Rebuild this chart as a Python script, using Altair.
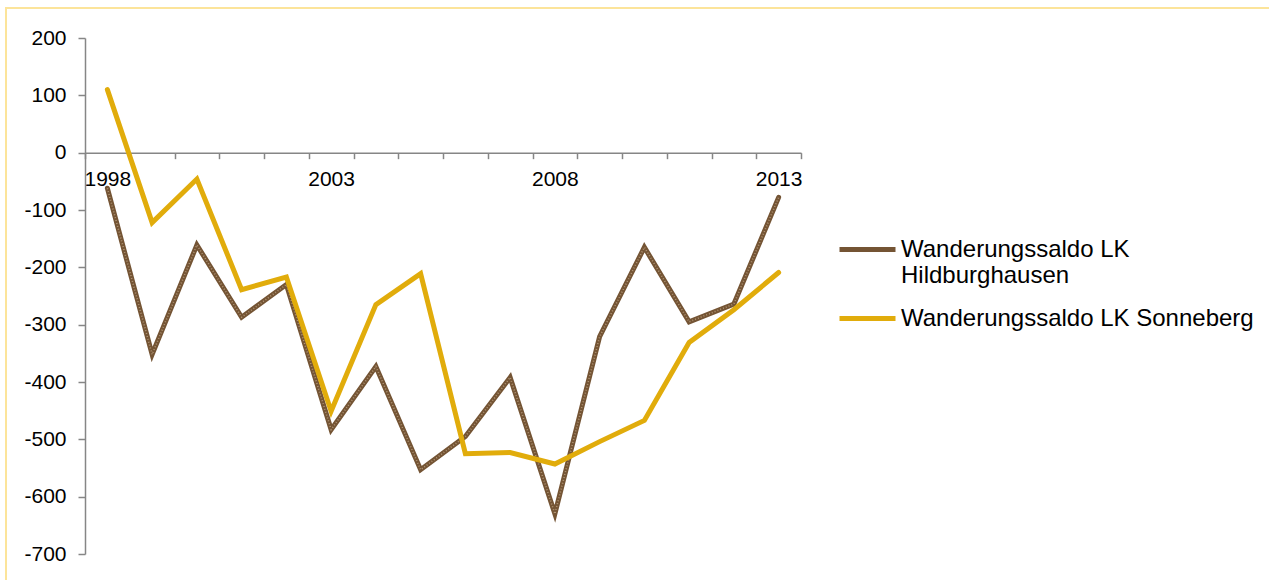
import altair as alt
import pandas as pd

# ---- data ----
years = list(range(1998, 2014))
hildburghausen = [-62, -352, -161, -287, -230, -483, -373, -553, -495, -392, -630, -321, -165, -295, -264, -78]
sonneberg = [110, -122, -46, -239, -217, -451, -265, -211, -525, -523, -543, -504, -467, -331, -274, -209]
label_years = [1998, 2003, 2008, 2013]
y_ticks = list(range(-700, 201, 100))
series_names = ["Wanderungssaldo LK Hildburghausen", "Wanderungssaldo LK Sonneberg"]
series_colors = ["#745434", "#E1AC0B"]

df = pd.DataFrame({
    "Jahr": years * 2,
    "Wert": hildburghausen + sonneberg,
    "Serie": [series_names[0]] * len(years) + [series_names[1]] * len(years),
})

FONT = "Liberation Sans"
W, H = 716, 516
y_min, y_max = y_ticks[0], y_ticks[-1]
zero_offset = -(H - H * (y_max - 0) / (y_max - y_min))

x_bounds = [y - 0.5 for y in years] + [years[-1] + 0.5]
x_values = sorted(x_bounds + label_years)

x_enc = alt.X(
    "Jahr:Q",
    scale=alt.Scale(domain=[years[0] - 0.5, years[-1] + 0.5], nice=False, zero=False),
    axis=alt.Axis(
        values=x_values, title=None, orient="bottom", offset=zero_offset, grid=False,
        labelExpr="datum.value % 1 == 0 ? '' + datum.value : ''",
        tickOpacity={"condition": {"test": "datum.value % 1 != 0", "value": 1}, "value": 0},
        tickSize=6, labelPadding=10, labelFontSize=21, labelFont=FONT, labelColor="black",
        domainColor="#868686", tickColor="#868686", domainWidth=1.5, tickWidth=1.5,
        labelOverlap=False, labelFlush=False,
    ),
)
y_enc = alt.Y(
    "Wert:Q",
    scale=alt.Scale(domain=[y_min, y_max], nice=False, zero=False),
    axis=alt.Axis(
        values=y_ticks, title=None, grid=False, tickSize=7, labelPadding=12,
        labelExpr="'' + datum.value",
        labelFontSize=21, labelFont=FONT, labelColor="black",
        domainColor="#868686", tickColor="#868686", domainWidth=1.5, tickWidth=1.5,
        labelOverlap=False, labelFlush=False,
    ),
)
color_enc = alt.Color(
    "Serie:N",
    scale=alt.Scale(domain=series_names, range=series_colors),
    legend=alt.Legend(
        title=None, orient="none", legendX=752, legendY=181,
        symbolType="stroke", symbolSize=3136, symbolStrokeWidth=5,
        labelFontSize=24, labelFont=FONT, labelColor="black", labelLimit=600,
        labelOffset=3, rowPadding=0, padding=0,
        labelExpr="datum.label == 'Wanderungssaldo LK Hildburghausen' ? ['Wanderungssaldo LK', 'Hildburghausen'] : datum.label",
    ),
)

base = alt.Chart(df)
brown = base.transform_filter(alt.datum.Serie == series_names[0]).mark_line(
    strokeWidth=5, strokeJoin="miter", strokeCap="round"
).encode(x=x_enc, y=y_enc, color=color_enc)
brown_texture = base.transform_filter(alt.datum.Serie == series_names[0]).mark_line(
    strokeWidth=1.6, strokeDash=[1, 2], color="#b09474", strokeJoin="miter"
).encode(x=x_enc, y=y_enc)
yellow = base.transform_filter(alt.datum.Serie == series_names[1]).mark_line(
    strokeWidth=5, strokeJoin="miter", strokeCap="round"
).encode(x=x_enc, y=y_enc, color=color_enc)

frame = alt.Chart(pd.DataFrame({"f": [0]})).mark_rect(
    fill="transparent", stroke="#FCE49A", strokeWidth=2
).encode(x=alt.value(-79), y=alt.value(-30), x2=alt.value(1200), y2=alt.value(560))

chart = alt.layer(frame, brown, brown_texture, yellow).properties(
    width=W, height=H,
    padding={"left": 85, "top": 38, "right": 1269 - 85 - W, "bottom": 580 - 38 - H},
    autosize=alt.AutoSizeParams(type="none"),
    background="white",
).configure_view(strokeWidth=0)

chart.save("out.html", embed_options={"renderer": "svg", "actions": False})
